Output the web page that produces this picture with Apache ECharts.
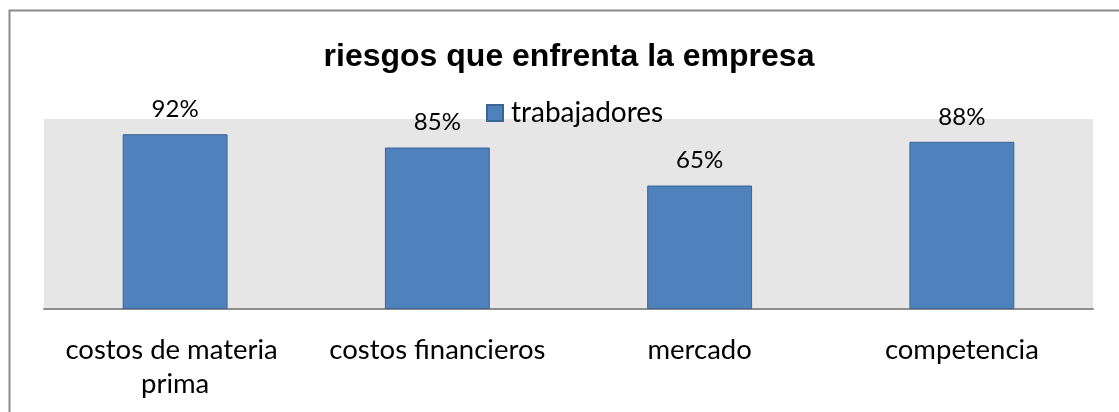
<!DOCTYPE html>
<html>
<head>
<meta charset="utf-8">
<script src="https://cdn.jsdelivr.net/npm/echarts@6/dist/echarts.min.js"></script>
<style>
  html, body { margin: 0; padding: 0; background: #fff; }
  #chart { width: 1119px; height: 412px; }
</style>
</head>
<body>
<div id="chart"></div>
<script>
// Risk categories and share of workers who named each one
const categories = ['costos de materia prima', 'costos financieros', 'mercado', 'competencia'];
const trabajadores = [92, 85, 65, 88];
const seriesName = 'trabajadores';
const titleText = 'riesgos que enfrenta la empresa';

const chart = echarts.init(document.getElementById('chart'));
const textFont = 'Lato, "Open Sans", sans-serif';

chart.setOption({
  animation: false,
  backgroundColor: '#ffffff',
  title: {
    text: titleText,
    left: 564,
    top: 36,
    textAlign: 'center',
    textStyle: {
      fontFamily: '"Liberation Sans", Arial, sans-serif',
      fontWeight: 'bold',
      fontSize: 32,
      color: '#000'
    }
  },
  legend: {
    data: [seriesName],
    left: 481,
    top: 94,
    itemWidth: 16,
    itemHeight: 16,
    itemGap: 10,
    icon: 'rect',
    textStyle: { fontFamily: textFont, fontSize: 28, color: '#000', padding: [0, 0, 0, 3] }
  },
  graphic: [{
    type: 'rect',
    silent: true,
    shape: { x: 9.5, y: 10.5, width: 1200, height: 500 },
    style: { fill: 'none', stroke: '#8a8a8a', lineWidth: 2 }
  }],
  grid: {
    left: 44,
    right: 26,
    top: 119,
    bottom: 103,
    show: true,
    backgroundColor: '#e6e6e6',
    borderWidth: 0
  },
  xAxis: {
    type: 'category',
    data: categories,
    axisTick: { show: false },
    axisLine: { lineStyle: { color: '#8c8c8c', width: 2 } },
    axisLabel: {
      interval: 0,
      margin: 24,
      width: 250,
      overflow: 'break',
      lineHeight: 34,
      fontFamily: textFont,
      fontSize: 27.5,
      color: '#000'
    }
  },
  yAxis: {
    type: 'value',
    min: 0,
    max: 100,
    show: false,
    splitLine: { show: false }
  },
  series: [{
    name: seriesName,
    type: 'bar',
    data: trabajadores,
    barWidth: '40%',
    itemStyle: { color: '#4f81bd', borderColor: '#3c6594', borderWidth: 1 },
    label: {
      show: true,
      position: 'top',
      distance: 13,
      formatter: '{c}%',
      fontFamily: textFont,
      fontSize: 24,
      color: '#000'
    }
  }]
});
</script>
</body>
</html>
